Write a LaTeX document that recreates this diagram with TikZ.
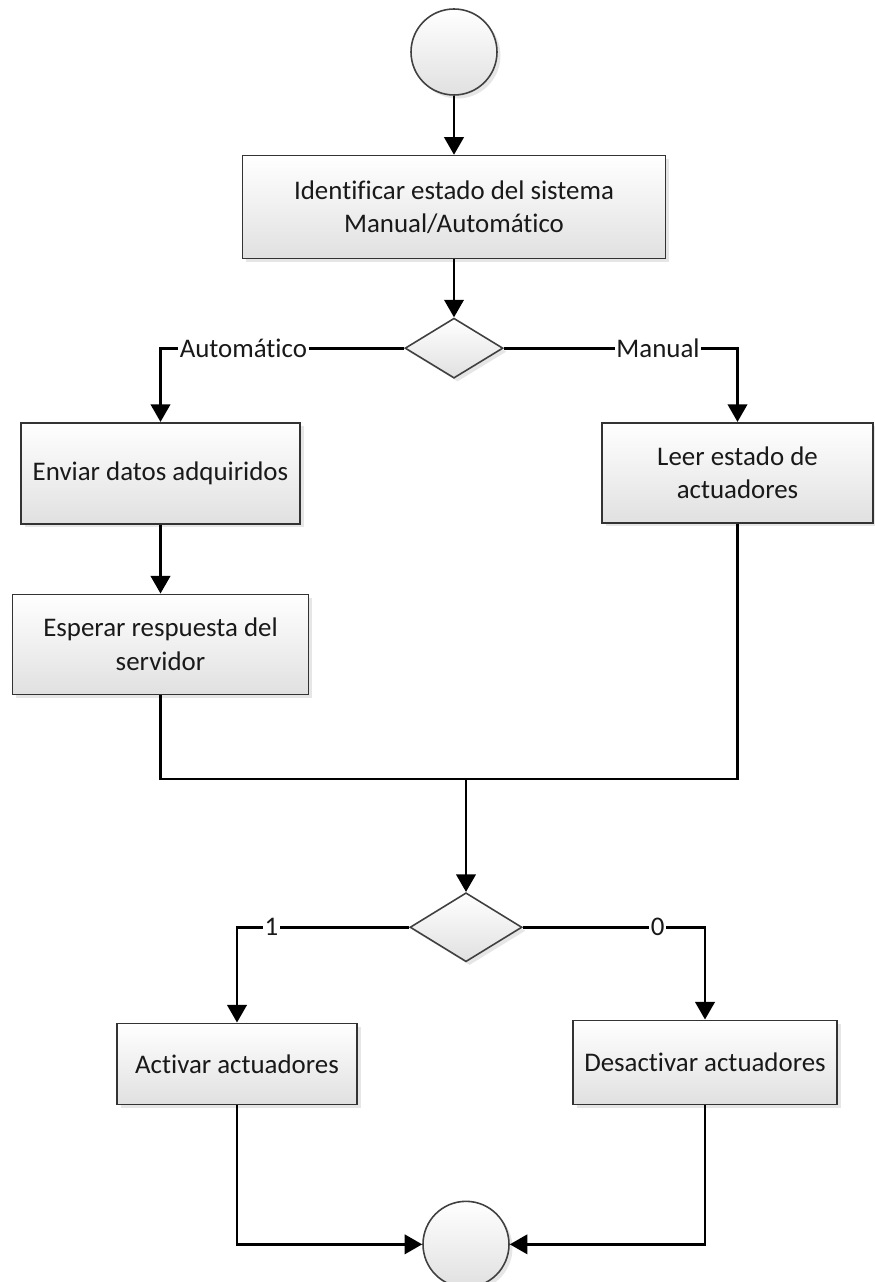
\documentclass[tikz,border=0pt]{standalone}
\usepackage{fontspec}
\setmainfont{Carlito}[Ligatures=NoCommon]
\usetikzlibrary{shapes,arrows.meta,positioning,calc,shadows}

\begin{document}
\begin{tikzpicture}[node distance=1.2cm]
\useasboundingbox (0,0) rectangle (17.5,-25.64);

% Define styles
\tikzstyle{state} = [rectangle, draw=black!80, line width=0.9pt, top color=white, bottom color=black!12, drop shadow={shadow xshift=0.07cm, shadow yshift=-0.07cm, opacity=0.2}, align=center, font=\fontsize{15.3}{19}\selectfont, text=black!90]
\tikzstyle{terminal} = [circle, draw=black!75, line width=0.9pt, minimum size=1.72cm, top color=white, bottom color=black!12, drop shadow={shadow xshift=0.07cm, shadow yshift=-0.07cm, opacity=0.2}]
\tikzstyle{decision} = [diamond, draw=black!75, line width=0.9pt, inner sep=0pt, top color=white, bottom color=black!12, drop shadow={shadow xshift=0.07cm, shadow yshift=-0.07cm, opacity=0.2}]
\tikzstyle{arrow} = [line width=1.6pt, -{Triangle[length=10pt, width=11pt]}]
\tikzstyle{line} = [line width=1.6pt]
\tikzstyle{branch} = [fill=white, inner sep=1pt, font=\fontsize{15.3}{19}\selectfont, text=black!90]

% Start and system state
\node (start) [terminal] at (9.08,-1.04) {};
\node (ident) [state, below=1.18cm of start, minimum width=8.46cm, minimum height=2.06cm] {Identificar estado del sistema\\Manual/Automático};
\node (dec1) [decision, below=1.16cm of ident, minimum width=1.96cm, minimum height=1.2cm] {};

% Automatic / manual branches
\node (enviar) [state, below=0.86cm of dec1, xshift=-5.87cm, minimum width=5.58cm, minimum height=2.02cm] {Enviar datos adquiridos};
\node (leer) [state, below=0.86cm of dec1, xshift=5.67cm, minimum width=5.42cm, minimum height=2cm] {Leer estado de\\actuadores};
\node (esperar) [state, below=1.38cm of enviar, minimum width=5.92cm, minimum height=2cm] {Esperar respuesta del\\servidor};

% Second decision
\node (dec2) [decision, below=10.26cm of dec1, xshift=0.24cm, minimum width=2.24cm, minimum height=1.38cm] {};
\node (activar) [state, below=1.2cm of dec2, xshift=-4.58cm, minimum width=4.8cm, minimum height=1.62cm] {Activar actuadores};
\node (desactivar) [state, below=1.14cm of dec2, xshift=4.78cm, minimum width=5.28cm, minimum height=1.68cm] {Desactivar actuadores};
\node (end) [terminal, below=4.76cm of dec2] {};

% Connections
\draw [arrow] (start) -- (ident);
\draw [arrow] (ident) -- (dec1);
\draw [arrow] (dec1.west) -| node[branch, pos=0.33] {Automático} (enviar.north);
\draw [arrow] (dec1.east) -| node[branch, pos=0.33] {Manual} (leer.north);
\draw [arrow] (enviar) -- (esperar);

% Join before second decision
\coordinate (merge) at ($(dec2.north) + (0, 2.26)$);
\draw [line] (esperar.south) |- (merge);
\draw [line] (leer.south) |- (merge);
\draw [arrow] (merge) -- (dec2.north);

\draw [arrow] (dec2.west) -| node[branch, pos=0.4] {1} (activar.north);
\draw [arrow] (dec2.east) -| node[branch, pos=0.37] {0} (desactivar.north);
\draw [arrow] (activar.south) |- (end.west);
\draw [arrow] (desactivar.south) |- (end.east);

\end{tikzpicture}
\end{document}
